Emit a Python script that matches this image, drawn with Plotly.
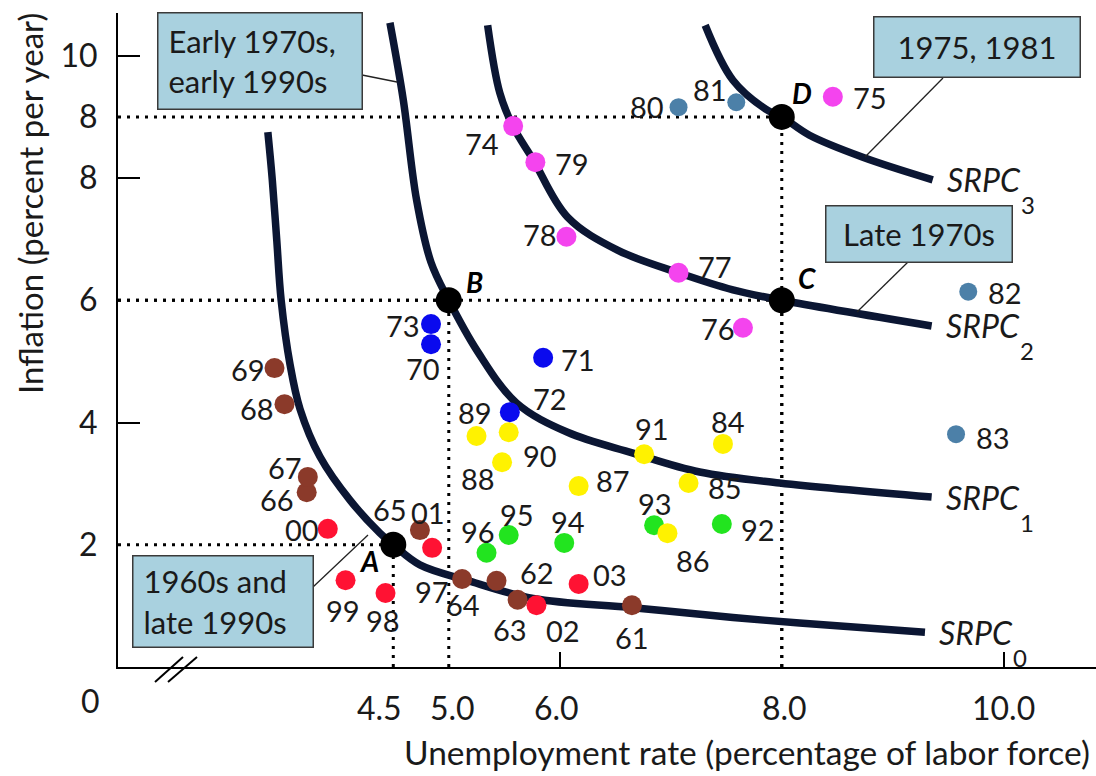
import plotly.graph_objects as go

# ---------------- data ----------------
# Year dots, grouped as coloured in the reference
brown_years = ["61", "62", "63", "64", "65", "66", "67", "68", "69", "01"]
brown_unemp = [6.65, 5.43, 5.62, 5.12, 4.50, 3.72, 3.73, 3.52, 3.43, 4.74]
brown_infl = [1.01, 1.41, 1.10, 1.44, 2.00, 2.86, 3.11, 4.30, 4.89, 2.24]

red_years = ["97", "98", "99", "00", "02", "03"]
red_unemp = [4.85, 4.43, 4.07, 3.91, 5.79, 6.17]
red_infl = [1.95, 1.21, 1.42, 2.26, 1.01, 1.36]

green_years = ["92", "93", "94", "95", "96"]
green_unemp = [7.46, 6.85, 6.04, 5.54, 5.34]
green_infl = [2.34, 2.32, 2.03, 2.16, 1.87]

yellow_years = ["84", "85", "86", "87", "88", "89", "90", "91"]
yellow_unemp = [7.47, 7.16, 6.97, 6.17, 5.48, 5.25, 5.54, 6.76]
yellow_infl = [3.65, 3.01, 2.19, 2.96, 3.35, 3.78, 3.84, 3.48]

blue_years = ["70", "71", "72", "73"]
blue_unemp = [4.84, 5.85, 5.55, 4.84]
blue_infl = [5.28, 5.06, 4.17, 5.61]

magenta_years = ["74", "75", "76", "77", "78", "79"]
magenta_unemp = [5.58, 8.46, 7.65, 7.07, 6.06, 5.78]
magenta_infl = [8.85, 9.33, 5.55, 6.45, 7.04, 8.26]

steel_years = ["80", "81", "82", "83"]
steel_unemp = [7.07, 7.59, 9.68, 9.57]
steel_infl = [9.16, 9.24, 6.14, 3.81]

# Short-run Phillips curves
srpc0_u = [3.37, 3.41, 3.45, 3.49, 3.57, 3.66, 3.84, 4.11, 4.38, 4.50, 4.74, 5.16, 5.76, 6.66, 7.56, 8.16, 9.29]
srpc0_i = [8.75, 7.97, 6.99, 6.00, 4.95, 4.22, 3.44, 2.73, 2.19, 2.00, 1.67, 1.42, 1.12, 0.97, 0.81, 0.72, 0.57]
srpc1_u = [4.47, 4.59, 4.71, 4.84, 5.00, 5.26, 5.61, 6.07, 6.66, 7.26, 7.98, 9.35]
srpc1_i = [10.54, 9.28, 7.64, 6.62, 6.00, 5.16, 4.32, 3.84, 3.50, 3.19, 3.01, 2.78]
srpc2_u = [5.35, 5.46, 5.58, 5.76, 6.07, 6.52, 7.07, 7.56, 8.00, 9.35]
srpc2_i = [10.50, 9.39, 8.84, 8.30, 7.36, 6.82, 6.45, 6.17, 6.00, 5.58]
srpc3_u = [7.31, 7.56, 7.87, 8.00, 8.25, 8.73, 9.36]
srpc3_i = [10.50, 9.60, 9.11, 9.00, 8.70, 8.34, 7.97]
srpc_base = "SRPC"
srpc_subs = ["0", "1", "2", "3"]

# Key points
key_names = ["A", "B", "C", "D"]
key_unemp = [4.5, 5.0, 8.0, 8.0]
key_infl = [2.0, 6.0, 6.0, 9.0]

# Axis ticks
x_label_vals = [4.5, 5.0, 6.0, 8.0, 10.0]
x_label_text = ["4.5", "5.0", "6.0", "8.0", "10.0"]
x_mark_vals = [6.0, 10.0]
y_label_vals = [2, 4, 6, 8, 9, 10]
y_label_text = ["2", "4", "6", "8", "8", "10"]
y_mark_vals = [4, 8, 10]

box_texts = ["Early 1970s,<br>early 1990s", "1975, 1981", "Late 1970s", "1960s and<br>late 1990s"]

# ---------------- styling / layout ----------------
W, H = 1096, 776
ML, MT, MB, MR = 118, 13, 109, 0
PW, PH = W - ML - MR, H - MT - MB
X0, X1 = 2.02, 2.02 + PW / 111.0
Y0, Y1 = 0.0, PH / 61.12
FONT = "Lato"
INK = "#1a1a1a"
CURVE = "#0b1633"


def fx(p):  # pixel x -> paper
    return (p - ML) / PW


def fy(p):  # pixel y -> paper
    return (H - MB - p) / PH


# label offsets in pixels (dx right, dy down)
label_off = {
    "61": (0, 32), "62": (40, -8), "63": (-8, 30), "64": (1, 26), "65": (-3, -35),
    "66": (-30, 7), "67": (-23, -9), "68": (-28, 4), "69": (-27, 1), "01": (8, -18),
    "70": (-8, 24), "71": (35, 2), "72": (40, -14), "73": (-28, 1),
    "74": (-31, 17), "75": (37, 1), "76": (-25, 1), "77": (36, -6), "78": (-26, -2), "79": (37, 1),
    "80": (-32, -1), "81": (-26, -13), "82": (37, 1), "83": (37, 3),
    "84": (5, -22), "85": (36, 4), "86": (26, 27), "87": (34, -6), "88": (-24, 16),
    "89": (-2, -23), "90": (31, 23), "91": (8, -26),
    "92": (36, 6), "93": (1, -22), "94": (4, -21), "95": (8, -20), "96": (-9, -21),
    "97": (0, 44), "98": (-3, 27), "99": (-3, 30), "00": (-26, 1), "02": (27, 25), "03": (31, -9),
}
key_off = {"A": (-24, 16), "B": (26, -18), "C": (25, -22), "D": (20, -24)}
x_label_shift = [-14, 4, -3, 3, 0]

fig = go.Figure()

# curves
for u, i in [(srpc0_u, srpc0_i), (srpc1_u, srpc1_i), (srpc2_u, srpc2_i), (srpc3_u, srpc3_i)]:
    fig.add_trace(go.Scatter(x=u, y=i, mode="lines", line=dict(color=CURVE, width=7.5, shape="spline", smoothing=1.0),
                             hoverinfo="skip", showlegend=False))

groups = [
    (brown_years, brown_unemp, brown_infl, "#8b3a2a", 20),
    (red_years, red_unemp, red_infl, "#ff1233", 20),
    (green_years, green_unemp, green_infl, "#22e41f", 20),
    (yellow_years, yellow_unemp, yellow_infl, "#fff200", 20),
    (blue_years, blue_unemp, blue_infl, "#0a0aee", 20),
    (magenta_years, magenta_unemp, magenta_infl, "#f444ee", 20),
    (steel_years, steel_unemp, steel_infl, "#4c80a8", 18),
]
annotations = []
for yrs, u, i, col, sz in groups:
    fig.add_trace(go.Scatter(x=u, y=i, mode="markers", text=yrs,
                             marker=dict(color=col, size=sz, line=dict(width=0)),
                             hoverinfo="text", showlegend=False))
    for t, xv, yv in zip(yrs, u, i):
        dx, dy = label_off[t]
        annotations.append(dict(x=xv, y=yv, text=t, showarrow=False, xshift=dx, yshift=-dy,
                                xanchor="center", yanchor="middle",
                                font=dict(family=FONT, size=29, color=INK)))

# key points
fig.add_trace(go.Scatter(x=key_unemp, y=key_infl, mode="markers",
                         marker=dict(color="#000000", size=26), hoverinfo="skip", showlegend=False))
for n, xv, yv in zip(key_names, key_unemp, key_infl):
    dx, dy = key_off[n]
    annotations.append(dict(x=xv, y=yv, text="<b><i>" + n + "</i></b>", showarrow=False, xshift=dx, yshift=-dy,
                            xanchor="center", yanchor="middle",
                            font=dict(family=FONT, size=28, color="#000")))

# SRPC labels at curve ends (main text plus a large, low subscript)
for sub, u, i in zip(srpc_subs, [srpc0_u, srpc1_u, srpc2_u, srpc3_u], [srpc0_i, srpc1_i, srpc2_i, srpc3_i]):
    annotations.append(dict(x=u[-1], y=i[-1], text="<i>" + srpc_base + "</i>", showarrow=False,
                            xanchor="left", yanchor="middle", xshift=12, yshift=0,
                            font=dict(family=FONT, size=32, color=INK)))
    annotations.append(dict(x=u[-1], y=i[-1], text=sub, showarrow=False,
                            xanchor="left", yanchor="middle", xshift=86, yshift=-25,
                            font=dict(family=FONT, size=24, color=INK)))

# x tick labels placed along the x axis scale
for v, txt, sh in zip(x_label_vals, x_label_text, x_label_shift):
    annotations.append(dict(x=v, xref="x", yref="paper", y=fy(708), text=txt, showarrow=False,
                            xanchor="center", yanchor="middle", xshift=sh,
                            font=dict(family=FONT, size=32, color=INK)))

# dummy trace to activate overlay axes used for tick marks
fig.add_trace(go.Scatter(x=[None], y=[None], xaxis="x2", yaxis="y2", showlegend=False, hoverinfo="skip"))

# dotted guide lines from key points
shapes = []
dot = dict(color="#000", width=3, dash="3px,6px")
for xv, yv in zip(key_unemp, key_infl):
    shapes.append(dict(type="line", xref="x", yref="y", x0=X0, x1=xv, y0=yv, y1=yv, line=dot, layer="below"))
    shapes.append(dict(type="line", xref="x", yref="y", x0=xv, x1=xv, y0=Y0, y1=yv, line=dot, layer="below"))

# text boxes (pixel boxes) with connector lines
boxes = [  # (left, top, right, bottom, align), connector (x0,y0,x1,y1)
    ((157, 13, 362, 110, "left"), (362, 75, 397, 82)),
    ((873, 17, 1080, 78, "center"), (943, 78, 865, 157)),
    ((825, 205, 1012, 262, "center"), (908, 262, 857, 312)),
    ((132, 555, 313, 647, "left"), (313, 587, 368, 535)),
]
for (b, c), txt in zip(boxes, box_texts):
    l, t, r, bt, al = b
    annotations.append(dict(xref="paper", yref="paper", x=fx((l + r) / 2), y=fy((t + bt) / 2),
                            xanchor="center", yanchor="middle", text=txt, showarrow=False, align=al,
                            width=r - l - 22, height=bt - t - 22, borderpad=10,
                            bgcolor="#a9d1df", bordercolor="#3a3a3a", borderwidth=1.5,
                            font=dict(family=FONT, size=31, color=INK)))
    shapes.append(dict(type="line", xref="paper", yref="paper", x0=fx(c[0]), y0=fy(c[1]), x1=fx(c[2]), y1=fy(c[3]),
                       line=dict(color="#222", width=1.3)))

# axis break marks
for x0p, x1p in [(155, 183), (168, 197)]:
    shapes.append(dict(type="line", xref="paper", yref="paper", x0=fx(x0p), y0=fy(682), x1=fx(x1p), y1=fy(657),
                       line=dict(color="#000", width=2)))

# origin label and axis titles
annotations.append(dict(xref="paper", yref="paper", x=fx(90), y=fy(700), text="0", showarrow=False,
                        xanchor="center", yanchor="middle",
                        font=dict(family=FONT, size=32, color=INK)))
annotations.append(dict(xref="paper", yref="paper", x=fx(747), y=fy(752),
                        text="Unemployment rate (percentage of labor force)", showarrow=False,
                        xanchor="center", yanchor="middle",
                        font=dict(family=FONT, size=33.5, color=INK)))
annotations.append(dict(xref="paper", yref="paper", x=fx(30), y=fy(204),
                        text="Inflation (percent per year)", showarrow=False, textangle=-90,
                        xanchor="center", yanchor="middle",
                        font=dict(family=FONT, size=33, color=INK)))

fig.update_layout(
    width=W, height=H, autosize=False,
    margin=dict(l=ML, r=MR, t=MT, b=MB, pad=0),
    paper_bgcolor="white", plot_bgcolor="white",
    showlegend=False,
    xaxis=dict(range=[X0, X1], showgrid=False, zeroline=False, showline=True, linecolor="#000", linewidth=2,
               tickmode="array", tickvals=x_label_vals, ticks="", showticklabels=False),
    yaxis=dict(range=[Y0, Y1], showgrid=False, zeroline=False, showline=True, linecolor="#000", linewidth=2,
               tickmode="array", tickvals=y_label_vals, ticktext=y_label_text, ticks="",
               tickfont=dict(family=FONT, size=32, color=INK), ticklabelstandoff=12),
    xaxis2=dict(overlaying="x", matches="x", range=[X0, X1], showgrid=False, zeroline=False, showline=False,
                tickmode="array", tickvals=x_mark_vals, ticks="inside", ticklen=15, tickwidth=2,
                tickcolor="#000", showticklabels=False, side="bottom"),
    yaxis2=dict(overlaying="y", matches="y", range=[Y0, Y1], showgrid=False, zeroline=False, showline=False,
                tickmode="array", tickvals=y_mark_vals, ticks="inside", ticklen=22, tickwidth=2,
                tickcolor="#000", showticklabels=False, side="left"),
    shapes=shapes,
    annotations=annotations,
)

fig.write_html("out.html", config={"displayModeBar": False},
               post_script="document.body.style.margin='0';document.body.style.padding='0';")
